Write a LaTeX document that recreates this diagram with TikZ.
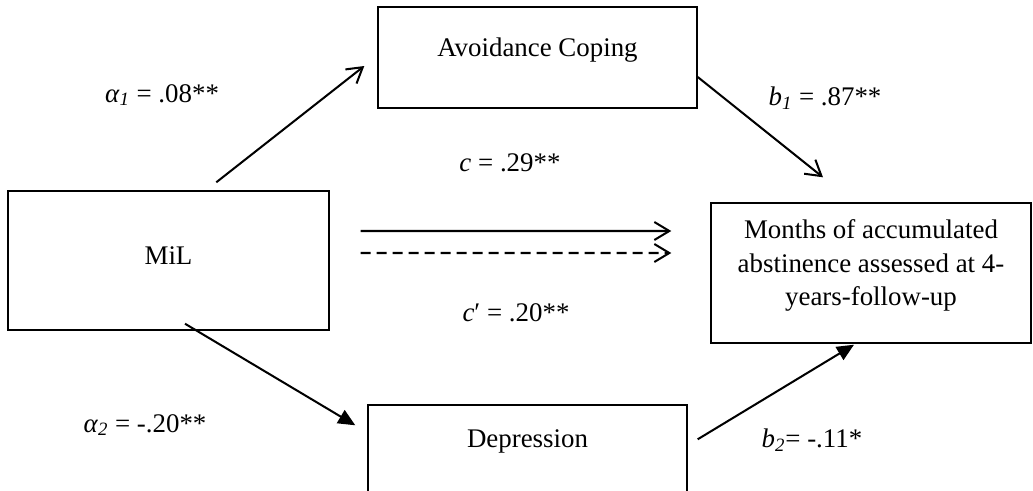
\documentclass[tikz,border=0pt]{standalone}
\usepackage{fontspec}
\setmainfont{Liberation Serif}
\usetikzlibrary{arrows.meta}

\tikzset{
    box/.style={draw, line width=0.8pt, minimum width=6.4cm, inner sep=0pt},
    opn/.style={line width=1.15pt, -{Straight Barb[length=3mm,width=3.6mm,line width=1.15pt]}},
    fld/.style={line width=1.15pt, -{Triangle[length=3.4mm,width=3mm]}}
}

\begin{document}
\begin{tikzpicture}[font=\fontsize{15.3}{19.3}\selectfont]
\useasboundingbox (0,0) rectangle (20.66,9.8);
\clip (0,0) rectangle (20.66,9.8);

% Boxes
\node[box, minimum height=2.02cm, minimum width=6.38cm] (avoid) at (10.75,8.65) {};
\node[box, minimum height=2.78cm, minimum width=6.42cm] (mil) at (3.37,4.59) {};
\node[box, minimum height=2.8cm] (months) at (17.42,4.34) {};
\node[box, minimum height=2.0cm, minimum width=6.38cm] (depr) at (10.55,0.70) {};

% Box texts
\node (avoidtxt) at ([yshift=0.15cm]avoid.center) {Avoidance Coping};
\node (miltxt) at ([yshift=0.09cm]mil.center) {MiL};
\node[align=center] (monthstxt) at ([yshift=0.15cm]months.center)
    {Months of accumulated\\abstinence assessed at 4-\\years-follow-up};
\node (deprtxt) at ([yshift=-0.74cm]depr.north) {Depression};

% Paths a1 -> b1
\draw[opn] ([shift={(4.18,0.16)}]mil.north west) -- ([shift={(-0.26,-0.17)}]avoid.west);
\draw[opn] ([shift={(0,-0.39)}]avoid.east) -- ([shift={(-0.96,0.5)}]months.north);

% Direct paths c and c'
\draw[opn] ([shift={(0.62,0.59)}]mil.east) -- ([shift={(-0.78,0.84)}]months.west);
\draw[opn, dash pattern=on 2mm off 1.2mm] ([shift={(0.62,0.15)}]mil.east) -- ([shift={(-0.78,0.40)}]months.west);

% Paths a2 -> b2
\draw[fld] ([shift={(0.33,0.14)}]mil.south) -- ([shift={(-0.24,-0.42)}]depr.north west);
\draw[fld] ([shift={(0.2,-0.7)}]depr.north east) -- ([shift={(-0.34,-0.02)}]months.south);

% Coefficients
\node (a1) at (3.24,7.9) {\textit{α}\textsubscript{\textit{1}} = .08**};
\node (b1) at (16.5,7.84) {\textit{b}\textsubscript{\textit{1}} = .87**};
\node (c) at (10.2,6.54) {\textit{c} = .29**};
\node (cp) at (10.32,3.54) {\textit{c}′ = .20**};
\node (a2) at (2.9,1.3) {\textit{α}\textsubscript{\textit{2}} = -.20**};
\node (b2) at (16.24,1.0) {\textit{b}\textsubscript{\textit{2}}= -.11*};

\end{tikzpicture}
\end{document}
